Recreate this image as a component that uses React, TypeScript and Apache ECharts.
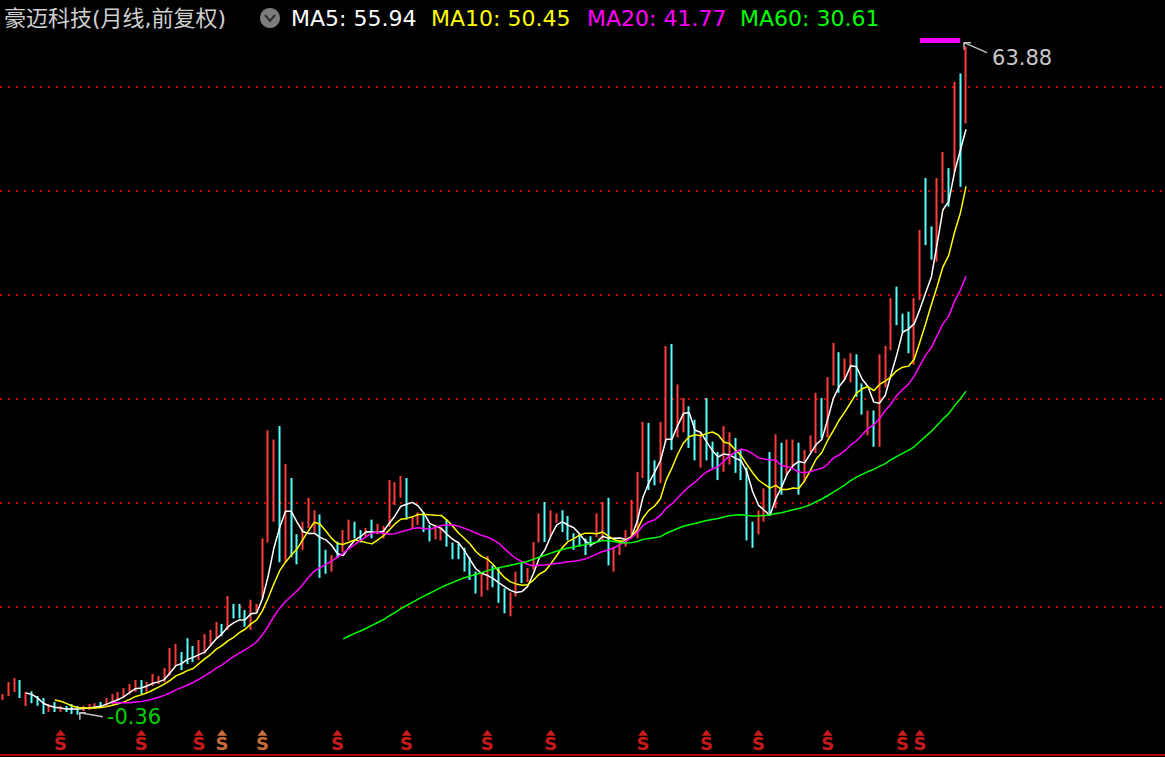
import React, { useEffect, useRef } from "react";
import * as echarts from "echarts";

// ---- data (monthly, forward adjusted) ----
const opens = [
  1.15, 1.6, 2.2, 2.7, 0.6, 1.7, 1.2, 0.8, 0.0, 0.5,
  0.0, 0.4, 0.5, 0.4, 0.1, 0.2, 0.3, 0.8, 0.6, 0.9,
  1.2, 1.5, 1.8, 2.2, 2.8, 2.0, 2.6, 2.8, 3.0, 3.5,
  4.5, 5.5, 6.5, 6.0, 5.1, 6.0, 6.6, 7.2, 8.2, 8.0,
  10.0, 9.6, 9.3, 8.4, 9.8, 11.0, 16.5, 19.0, 26.0, 15.0,
  21.0, 16.8, 15.8, 17.8, 17.4, 18.5, 15.2, 13.6, 16.0, 15.5,
  16.6, 18.0, 17.2, 16.8, 18.0, 17.2, 16.9, 17.8, 20.0, 20.8,
  22.0, 17.8, 18.0, 18.8, 17.8, 16.7, 16.6, 18.0, 16.0, 15.8,
  15.4, 14.6, 13.2, 11.4, 12.0, 13.8, 12.6, 11.2, 9.6, 11.2,
  14.0, 12.6, 13.8, 16.4, 19.5, 17.0, 18.2, 19.0, 18.5, 17.0,
  16.8, 16.4, 16.6, 16.8, 16.8, 19.5, 14.0, 15.2, 16.0, 16.8,
  17.0, 22.6, 27.0, 23.5, 22.2, 26.0, 34.8, 27.0, 27.2, 29.0,
  27.5, 23.8, 29.0, 25.5, 24.5, 23.2, 24.0, 26.0, 24.8, 23.0,
  18.0, 17.2, 18.4, 24.0, 20.0, 25.5, 23.0, 23.6, 25.5, 22.2,
  25.0, 25.0, 29.8, 26.8, 31.5, 34.0, 32.0, 32.0, 34.0, 31.2,
  26.8, 28.5, 26.0, 31.5, 35.0, 40.5, 38.0, 38.0, 34.0, 39.8,
  51.0, 46.4, 44.0, 49.2, 52.0, 52.0, 60.5, 57.0,
];
const closes = [
  1.5, 2.3, 2.6, 1.5, 0.8, 0.8, 0.6, 0.0, 0.3, 0.1,
  0.4, 0.2, 0.1, 0.1, 0.4, 0.6, 0.7, 0.5, 1.1, 1.5,
  1.7, 2.1, 2.5, 2.9, 1.9, 2.6, 3.4, 3.2, 4.0, 5.2,
  6.0, 4.4, 5.2, 5.0, 6.5, 7.2, 7.6, 8.4, 7.4, 9.8,
  9.2, 9.0, 8.5, 10.2, 10.2, 16.0, 20.0, 22.0, 20.0, 18.0,
  16.0, 14.8, 17.5, 19.0, 18.2, 14.0, 13.6, 14.9, 15.0, 17.2,
  18.0, 17.0, 16.6, 17.4, 17.0, 17.8, 17.6, 20.5, 21.0, 21.5,
  18.8, 18.5, 18.8, 17.5, 16.6, 17.5, 17.4, 16.0, 15.0, 15.0,
  13.8, 13.0, 11.6, 12.8, 14.0, 12.2, 11.0, 9.8, 11.0, 13.0,
  12.6, 13.5, 16.0, 18.5, 17.0, 19.0, 18.9, 17.6, 16.8, 15.8,
  16.0, 15.4, 16.0, 18.0, 18.6, 15.0, 15.4, 16.2, 17.2, 20.0,
  22.5, 27.0, 23.0, 22.2, 25.5, 33.0, 27.0, 29.5, 28.0, 26.0,
  24.5, 26.0, 25.0, 23.8, 22.8, 26.0, 25.5, 23.5, 22.5, 17.5,
  16.5, 19.0, 21.0, 20.0, 25.5, 22.0, 25.5, 25.0, 22.0, 24.8,
  26.3, 30.0, 27.5, 31.5, 35.0, 32.0, 33.5, 34.0, 31.0, 29.0,
  28.5, 26.0, 33.5, 34.8, 39.0, 38.0, 36.8, 35.0, 37.3, 46.0,
  46.0, 44.5, 51.0, 53.5, 50.0, 60.0, 55.0, 61.2,
];
const lows = [
  1.06, 1.44, 1.83, 1.25, 0.48, 0.75, 0.5, -0.29, -0.1, -0.1,
  -0.1, -0.1, -0.29, -0.36, 0.0, 0.1, 0.2, 0.29, 0.48, 0.67,
  1.06, 1.25, 1.6, 1.83, 1.6, 1.83, 2.4, 2.6, 2.79, 3.37,
  4.33, 3.94, 4.5, 4.7, 4.9, 5.5, 6.25, 7.0, 7.2, 7.8,
  8.9, 8.9, 8.1, 7.8, 9.5, 10.9, 16.2, 18.2, 14.3, 14.3,
  14.8, 14.1, 15.5, 17.6, 17.2, 12.8, 13.2, 13.4, 14.7, 15.3,
  16.4, 16.6, 16.2, 16.7, 16.6, 17.0, 16.6, 17.7, 19.8, 20.5,
  18.4, 17.6, 17.9, 17.2, 16.3, 16.5, 16.4, 15.8, 14.6, 14.6,
  13.4, 12.6, 11.3, 11.0, 11.6, 11.9, 10.4, 9.4, 9.1, 11.0,
  12.3, 12.4, 13.6, 16.2, 16.25, 16.7, 18.1, 17.2, 16.4, 15.5,
  15.8, 15.0, 15.8, 16.7, 16.4, 14.0, 13.4, 15.0, 15.8, 16.6,
  16.6, 22.4, 21.25, 21.7, 21.9, 25.8, 25.1, 26.3, 26.8, 25.3,
  24.1, 23.4, 24.1, 23.4, 22.2, 23.0, 23.7, 22.9, 22.2, 16.4,
  15.7, 17.0, 18.2, 19.0, 19.5, 20.8, 22.7, 23.4, 20.8, 22.0,
  24.9, 24.8, 26.25, 26.3, 31.3, 30.6, 31.8, 31.6, 30.2, 28.5,
  26.5, 25.4, 25.4, 31.1, 34.7, 37.1, 36.4, 34.4, 33.3, 39.5,
  44.8, 43.4, 43.2, 48.8, 48.5, 51.8, 50.4, 56.5,
];
const highs = [
  1.63, 2.79, 3.17, 2.98, 1.83, 1.9, 1.44, 1.25, 0.67, 0.87,
  0.48, 0.48, 0.67, 0.48, 0.5, 0.67, 0.75, 0.87, 1.25, 1.63,
  1.83, 2.2, 2.6, 2.98, 2.98, 2.79, 3.56, 3.37, 4.13, 6.06,
  6.44, 5.67, 7.0, 6.25, 6.83, 7.4, 7.8, 8.56, 8.37, 11.06,
  10.3, 10.3, 9.7, 10.7, 10.3, 16.6, 27.0, 26.1, 27.4, 23.75,
  22.4, 17.0, 18.2, 20.5, 19.3, 18.9, 15.5, 15.0, 16.3, 17.4,
  18.4, 18.2, 17.4, 17.6, 18.4, 18.0, 17.8, 22.2, 22.0, 22.6,
  22.4, 18.7, 19.1, 19.1, 17.9, 17.9, 17.7, 18.4, 16.2, 16.1,
  15.7, 14.8, 13.4, 13.3, 14.9, 14.0, 13.75, 11.8, 11.4, 13.4,
  14.2, 13.75, 16.25, 19.0, 20.1, 19.3, 19.0, 19.3, 18.75, 17.1,
  17.0, 16.6, 16.8, 19.0, 20.1, 20.5, 15.8, 16.4, 17.4, 20.3,
  23.0, 27.8, 27.7, 24.1, 27.8, 35.1, 35.3, 31.4, 30.1, 29.3,
  28.0, 26.8, 30.1, 25.9, 24.9, 27.4, 26.8, 26.25, 25.1, 23.4,
  18.2, 19.3, 21.4, 24.9, 26.6, 25.8, 26.1, 26.1, 25.8, 25.1,
  26.5, 30.6, 30.1, 32.1, 35.4, 34.5, 33.9, 34.4, 34.3, 31.5,
  28.9, 28.9, 34.3, 35.1, 39.7, 40.8, 38.2, 38.4, 39.7, 46.25,
  51.25, 46.6, 51.25, 53.75, 52.2, 60.5, 61.3, 63.88,
];

const totalSlots = 202;
const startYear = 2011;
const startMonth = 6;
const gridValues = [10, 20, 30, 40, 50, 60];
const markerIdx = [10, 24, 34, 38, 45, 58, 70, 84, 95, 111, 122, 131, 143, 156, 159];
const markerOrange = [38, 45];
const topBarStart = 159;
const topBarEnd = 166;
const topBarValue = 64.47;
const titleText = "豪迈科技(月线,前复权)";
const maLabels = ["MA5: 55.94", "MA10: 50.45", "MA20: 41.77", "MA60: 30.61"];
const maPeriods = [5, 10, 20, 60];
const maColors = ["#ffffff", "#ffff00", "#ff00ff", "#00ff00"];
const maLabelX = [291, 431, 587, 740];

const categories = Array.from({ length: totalSlots }, (_, i) => {
  if (i >= closes.length) return "pad" + i;
  const m = startMonth - 1 + i;
  return `${startYear + Math.floor(m / 12)}-${String((m % 12) + 1).padStart(2, "0")}`;
});

function movingAverage(n: number) {
  return closes.map((_, i) => {
    if (i < n - 1) return "-";
    let s = 0;
    for (let k = i - n + 1; k <= i; k++) s += closes[k];
    return +(s / n).toFixed(3);
  });
}

export default function App() {
  const ref = useRef<HTMLDivElement>(null);
  useEffect(() => {
    if (!ref.current) return;
    const chart = echarts.init(ref.current, undefined, { renderer: "svg" });
    const candleData = opens.map((o, i) => [o, closes[i], lows[i], highs[i]]);
    const maSeries = maPeriods.map((p, k) => ({
      type: "line",
      name: "MA" + p,
      data: movingAverage(p),
      showSymbol: false,
      symbol: "none",
      lineStyle: { color: maColors[k], width: 1.5 },
      z: 3,
      silent: true,
    }));
    const topBar = closes.map((_, i) => (i >= topBarStart && i <= topBarEnd ? topBarValue : "-"));
    const markerColor = (i: number) => (markerOrange.includes(i) ? "#ff8a50" : "#ff2020");
    chart.setOption({
      animation: false,
      backgroundColor: "#000000",
      grid: { left: 0, right: 0, top: 24.6, bottom: 4.4 },
      xAxis: {
        type: "category",
        data: categories,
        boundaryGap: true,
        show: false,
      },
      yAxis: {
        type: "value",
        min: -4,
        max: 66,
        show: false,
        splitLine: { show: false },
      },
      series: [
        {
          type: "candlestick",
          data: candleData,
          barWidth: 0.2,
          barMinWidth: 0,
          z: 2,
          silent: true,
          itemStyle: {
            color: "#ff3c3c",
            color0: "#54ffff",
            borderColor: "#ff3c3c",
            borderColor0: "#54ffff",
            borderWidth: 2,
          },
          markLine: {
            silent: true,
            symbol: ["none", "none"],
            label: { show: false },
            lineStyle: { color: "#c80000", type: [2, 6], width: 2, opacity: 1 },
            emphasis: { disabled: true },
            data: gridValues.map((v) => ({ yAxis: v, lineStyle: { color: "#c80000" } })),
            z: 1,
          },
        },
        ...maSeries,
        {
          type: "line",
          data: topBar,
          showSymbol: false,
          symbol: "none",
          lineStyle: { color: "#ff00ff", width: 5, cap: "butt" },
          silent: true,
        },
        {
          type: "scatter",
          clip: false,
          silent: true,
          symbol: "triangle",
          symbolSize: [10, 6],
          data: markerIdx.map((i) => ({
            value: [i, -2.1],
            itemStyle: { color: markerColor(i) },
            label: { color: markerColor(i) },
          })),
          label: {
            show: true,
            position: "bottom",
            distance: -1,
            formatter: "S",
            fontSize: 18,
            fontWeight: "bold",
            fontFamily: "DejaVu Sans",
          },
        },
      ],
    });

    // labels of extreme values, placed from the axes
    let hiIdx = 0;
    let loIdx = 0;
    highs.forEach((h, i) => { if (h > highs[hiIdx]) hiIdx = i; });
    lows.forEach((l, i) => { if (l < lows[loIdx]) loIdx = i; });
    const hp = chart.convertToPixel({ xAxisIndex: 0, yAxisIndex: 0 }, [hiIdx, highs[hiIdx]]) as number[];
    const lp = chart.convertToPixel({ xAxisIndex: 0, yAxisIndex: 0 }, [loIdx, lows[loIdx]]) as number[];
    const ht = [hp[0] - 2, hp[1] - 4];
    const lt = [lp[0] + 2, lp[1] - 2];
    const arrowStyle = { stroke: "#c0c0c0", lineWidth: 1.5, fill: "none" };
    const cjkFont = '"DejaVu Sans", "Noto Sans CJK SC", sans-serif';
    const latinFont = '"DejaVu Sans", sans-serif';

    const graphic: any[] = [
      {
        type: "text",
        x: 4,
        y: 18,
        style: { text: titleText, fill: "#d0d0d0", fontSize: 22, fontFamily: cjkFont, verticalAlign: "middle" },
      },
      { type: "circle", shape: { cx: 270, cy: 18, r: 10 }, style: { fill: "#7d7d7d" } },
      {
        type: "polyline",
        shape: { points: [[265, 15], [270, 21], [275, 15]] },
        style: { stroke: "#2e2e2e", lineWidth: 2, fill: "none" },
      },
      ...maLabels.map((t, k) => ({
        type: "text",
        x: maLabelX[k],
        y: 18,
        style: { text: t, fill: maColors[k], fontSize: 22, fontFamily: latinFont, verticalAlign: "middle" },
      })),
      // max arrow + label
      { type: "polyline", shape: { points: [[ht[0] + 7, ht[1]], [ht[0], ht[1]], [ht[0], ht[1] + 7]] }, style: arrowStyle },
      { type: "line", shape: { x1: ht[0], y1: ht[1], x2: ht[0] + 23, y2: ht[1] + 10 }, style: arrowStyle },
      {
        type: "text",
        x: ht[0] + 28,
        y: ht[1] + 15,
        style: { text: highs[hiIdx].toFixed(2), fill: "#c8c8c8", fontSize: 21, fontFamily: latinFont, verticalAlign: "middle" },
      },
      // min arrow + label
      { type: "polyline", shape: { points: [[lt[0] + 6, lt[1]], [lt[0], lt[1]], [lt[0], lt[1] + 7]] }, style: arrowStyle },
      { type: "line", shape: { x1: lt[0], y1: lt[1], x2: lt[0] + 23, y2: lt[1] + 4 }, style: arrowStyle },
      {
        type: "text",
        x: lt[0] + 27,
        y: lt[1] + 4,
        style: { text: lows[loIdx].toFixed(2), fill: "#00d000", fontSize: 21, fontFamily: latinFont, verticalAlign: "middle" },
      },
      // bottom frame line
      { type: "rect", shape: { x: 0, y: 754, width: 1165, height: 2 }, style: { fill: "#b00000" } },
    ];
    chart.setOption({ graphic });

    return () => chart.dispose();
  }, []);

  return (
    <div
      ref={ref}
      style={{ position: "fixed", left: 0, top: 0, width: 1165, height: 757, background: "#000" }}
    />
  );
}
